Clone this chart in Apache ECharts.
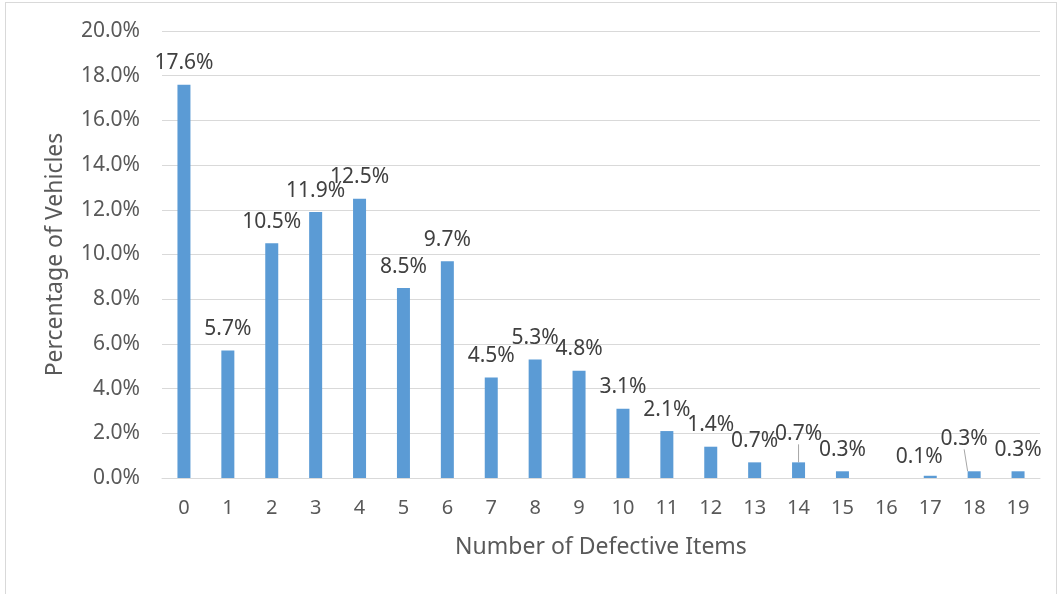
<!DOCTYPE html>
<html><head><meta charset="utf-8">
<script src="https://cdn.jsdelivr.net/npm/echarts@6/dist/echarts.min.js"></script>
<style>html,body{margin:0;padding:0;background:#fff}#c{width:1060px;height:594px}
#frame{position:absolute;left:5px;top:2px;width:1052px;height:600px;border:1px solid #d9d9d9;pointer-events:none;box-sizing:border-box}</style>
</head><body><div id="frame"></div><div id="c"></div>
<script>
const categories = ['0','1','2','3','4','5','6','7','8','9','10','11','12','13','14','15','16','17','18','19'];
const percentages = [17.6,5.7,10.5,11.9,12.5,8.5,9.7,4.5,5.3,4.8,3.1,2.1,1.4,0.7,0.7,0.3,0,0.1,0.3,0.3];
const yTicks = [0,2,4,6,8,10,12,14,16,18,20];
// label nudges [dx, dy, leader line] as in the reference
const labelShift = {14:[0,-7,true],17:[-11,3,false],18:[-10,-11,true]};

const font = '"Noto Sans", "Open Sans", sans-serif';
const chart = echarts.init(document.getElementById('c'));
chart.setOption({
  animation:false,
  grid:{left:162,right:20,top:31,bottom:116},
  xAxis:{type:'category',data:categories,
    axisLine:{lineStyle:{color:'#d9d9d9',width:1}},axisTick:{show:false},
    axisLabel:{color:'#595959',fontSize:20,fontFamily:font,margin:20},
    name:'Number of Defective Items',nameLocation:'middle',nameGap:58,
    nameTextStyle:{color:'#595959',fontSize:23,fontFamily:font}},
  yAxis:{type:'value',min:yTicks[0],max:yTicks[yTicks.length-1],interval:2,
    axisLine:{show:false},axisTick:{show:false},
    splitLine:{lineStyle:{color:'#d9d9d9',width:1}},
    axisLabel:{color:'#595959',fontSize:21,fontFamily:font,margin:22,formatter:v=>v.toFixed(1)+'%'},
    name:'Percentage of Vehicles',nameLocation:'middle',nameGap:95,
    nameTextStyle:{color:'#595959',fontSize:23,fontFamily:font}},
  series:[{type:'bar',barWidth:13,
    itemStyle:{color:'#5b9bd5'},
    data:percentages.map((v,i)=>{
      const d={value:v};
      if(v===0) d.label={show:false};
      if(labelShift[i] && labelShift[i][2]) d.labelLine={show:true,lineStyle:{color:'#a6a6a6',width:1}};
      return d;
    }),
    label:{show:true,position:'top',distance:11,color:'#404040',fontSize:21,fontFamily:font,
      formatter:p=>p.value.toFixed(1)+'%'},
    labelLine:{show:false,length2:0},
    labelLayout:p=>{const s=labelShift[p.dataIndex];return s?{dx:s[0],dy:s[1]}:{};}
  }]
});
</script></body></html>
